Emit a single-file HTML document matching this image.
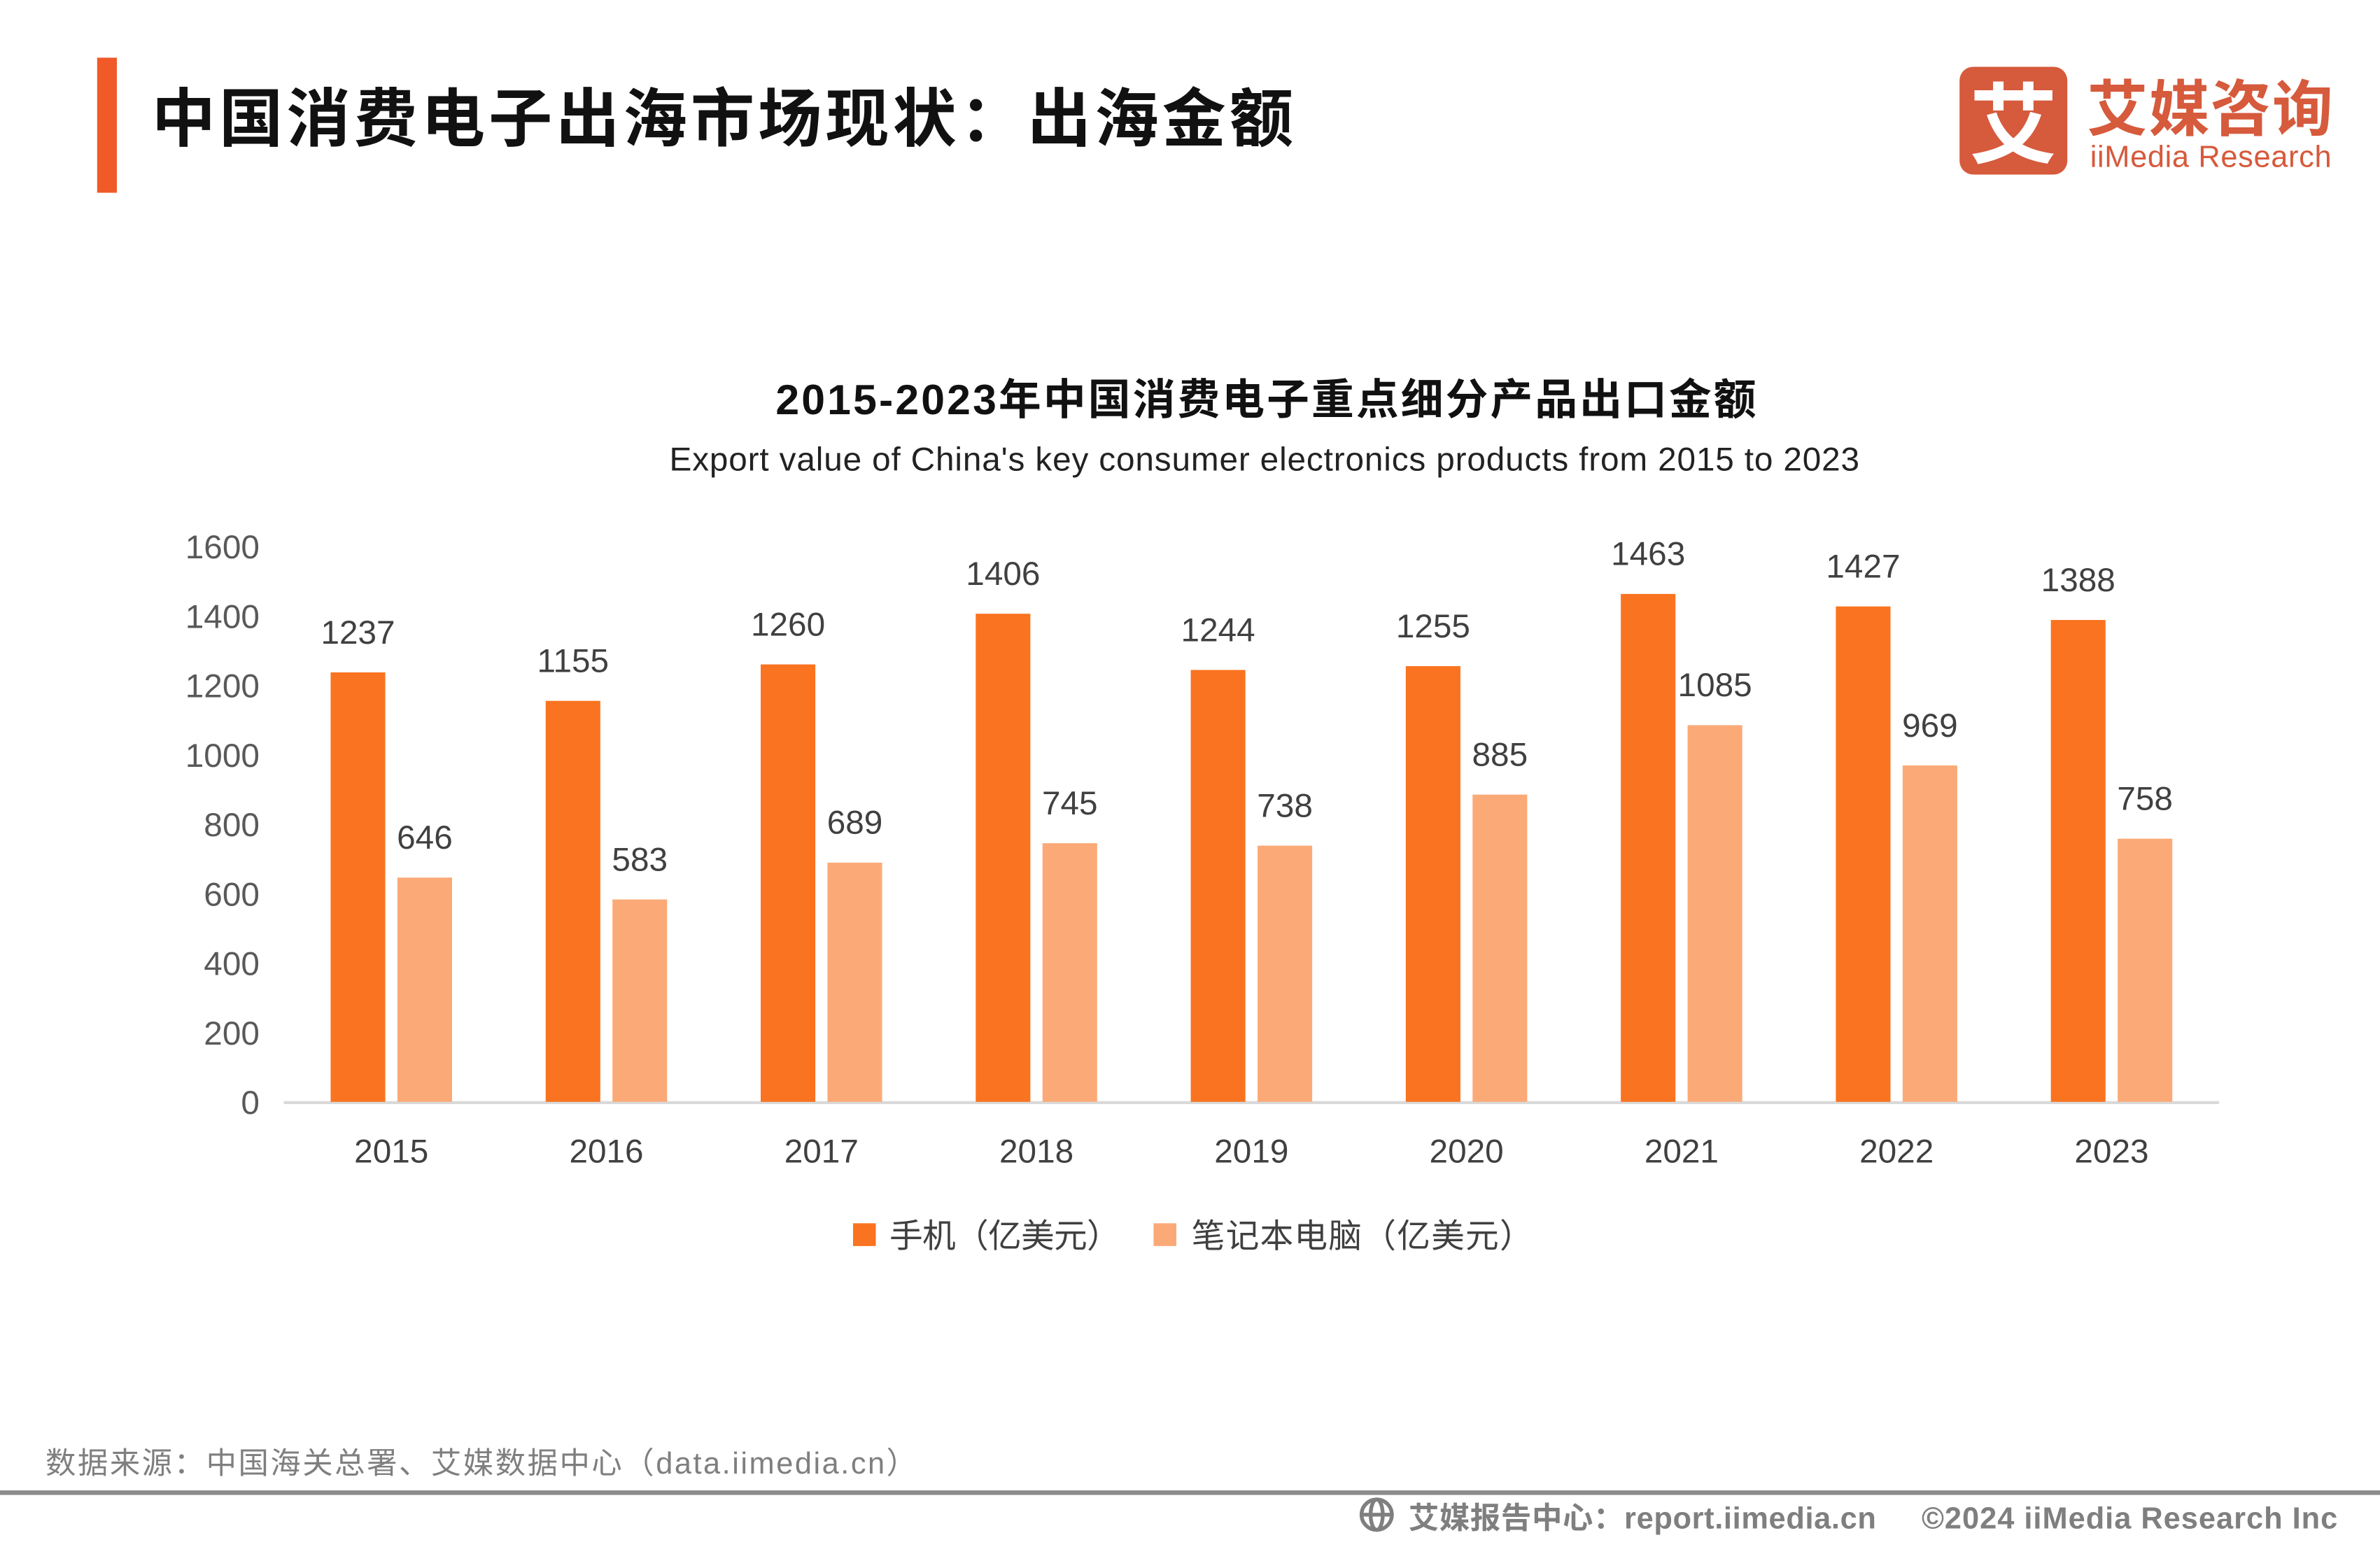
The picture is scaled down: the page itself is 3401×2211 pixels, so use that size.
<!DOCTYPE html>
<html><head><meta charset="utf-8"><style>
html,body{margin:0;padding:0;background:#fff;}
svg{display:block;}
text{font-family:"Liberation Sans","Noto Sans CJK SC",sans-serif;}
</style></head><body>
<svg id="chart" width="3401" height="2211" viewBox="0 0 1568 1019.3" preserveAspectRatio="none" xmlns="http://www.w3.org/2000/svg">
<rect x="64" y="38" width="13" height="89" fill="#f05a28"/>
<text x="100" y="93" font-size="42" font-weight="bold" fill="#111" textLength="752">中国消费电子出海市场现状：出海金额</text>
<g>
<rect x="1291" y="44" width="71" height="71" rx="9" fill="#d65a3c"/>
<text x="1326.5" y="103" font-size="58" font-weight="bold" fill="#fff" text-anchor="middle">艾</text>
<text x="1375" y="86" font-size="40" font-weight="bold" fill="#d65a3c" textLength="162">艾媒咨询</text>
<text x="1377" y="110" font-size="20" fill="#d65a3c" textLength="159">iiMedia Research</text>
</g>
<text x="511" y="273" font-size="28" font-weight="bold" fill="#111" textLength="646">2015-2023年中国消费电子重点细分产品出口金额</text>
<text x="833" y="310" font-size="22" fill="#222" text-anchor="middle" textLength="784">Export value of China's key consumer electronics products from 2015 to 2023</text>
<g id="yaxis"></g>
<g id="bars"></g>
<g id="xaxis"></g>
<g>
<rect x="562" y="806" width="15" height="15" fill="#fa7320"/>
<text x="586" y="822" font-size="22" fill="#404040" textLength="152">手机（亿美元）</text>
<rect x="760" y="806" width="15" height="15" fill="#fbaa77"/>
<text x="785" y="822" font-size="22" fill="#404040" textLength="225">笔记本电脑（亿美元）</text>
</g>
<text x="30" y="971" font-size="20" fill="#7f7f7f" textLength="574">数据来源：中国海关总署、艾媒数据中心（data.iimedia.cn）</text>
<rect x="0" y="982" width="1568" height="3" fill="#8c8c8c"/>
<g fill="none" stroke="#7f7f7f" stroke-width="2.5">
<circle cx="907" cy="998" r="10"/><ellipse cx="907" cy="998" rx="4" ry="10"/><line x1="897" y1="998" x2="917" y2="998"/>
</g>
<text x="928" y="1007" font-size="20" font-weight="bold" fill="#7f7f7f" textLength="308">艾媒报告中心：report.iimedia.cn</text>
<text x="1266" y="1007" font-size="20" font-weight="bold" fill="#7f7f7f" textLength="274">©2024  iiMedia Research  Inc</text>
</svg>
<script>
const categories = ["2015","2016","2017","2018","2019","2020","2021","2022","2023"];
const phoneValues = [1237,1155,1260,1406,1244,1255,1463,1427,1388];
const laptopValues = [646,583,689,745,738,885,1085,969,758];
const yTicks = [0,200,400,600,800,1000,1200,1400,1600];

const NS = "http://www.w3.org/2000/svg";
const x0 = 187, x1 = 1462, yBase = 726, yTop = 360, yMax = 1600;
const band = (x1 - x0) / categories.length;
function y(v){ return yBase - (v / yMax) * (yBase - yTop); }
function cx(i){ return x0 + band * (i + 0.5); }
function mk(tag, attrs, parent){ const e = document.createElementNS(NS, tag); for (const k in attrs) e.setAttribute(k, attrs[k]); parent.appendChild(e); return e; }

const yg = document.getElementById('yaxis');
yTicks.forEach(t => {
  const e = mk('text', {x:171, y:y(t)+8, 'font-size':22, fill:'#595959', 'text-anchor':'end'}, yg);
  
  
  e.textContent = t;
});
const bl = mk('line', {x1:x0, x2:x1, y1:yBase+0.5, y2:yBase+0.5, stroke:'#d9d9d9', 'stroke-width':2}, yg);



const bg = document.getElementById('bars');
const xg = document.getElementById('xaxis');
categories.forEach((c, i) => {
  const c0 = cx(i);
  const b1 = mk('rect', {x:c0-40, y:y(phoneValues[i]), width:36, height:yBase-y(phoneValues[i]), fill:'#fa7320'}, bg);
  
  
  const l1 = mk('text', {x:c0-22, y:y(phoneValues[i])-19, 'font-size':22, fill:'#404040', 'text-anchor':'middle'}, bg);
  
  
  l1.textContent = phoneValues[i];
  const b2 = mk('rect', {x:c0+4, y:y(laptopValues[i]), width:36, height:yBase-y(laptopValues[i]), fill:'#fbaa77'}, bg);
  
  
  const l2 = mk('text', {x:c0+22, y:y(laptopValues[i])-19, 'font-size':22, fill:'#404040', 'text-anchor':'middle'}, bg);
  
  
  l2.textContent = laptopValues[i];
  const xl = mk('text', {x:c0, y:766, 'font-size':22, fill:'#404040', 'text-anchor':'middle'}, xg);
  
  
  xl.textContent = c;
});
</script>
</body></html>
